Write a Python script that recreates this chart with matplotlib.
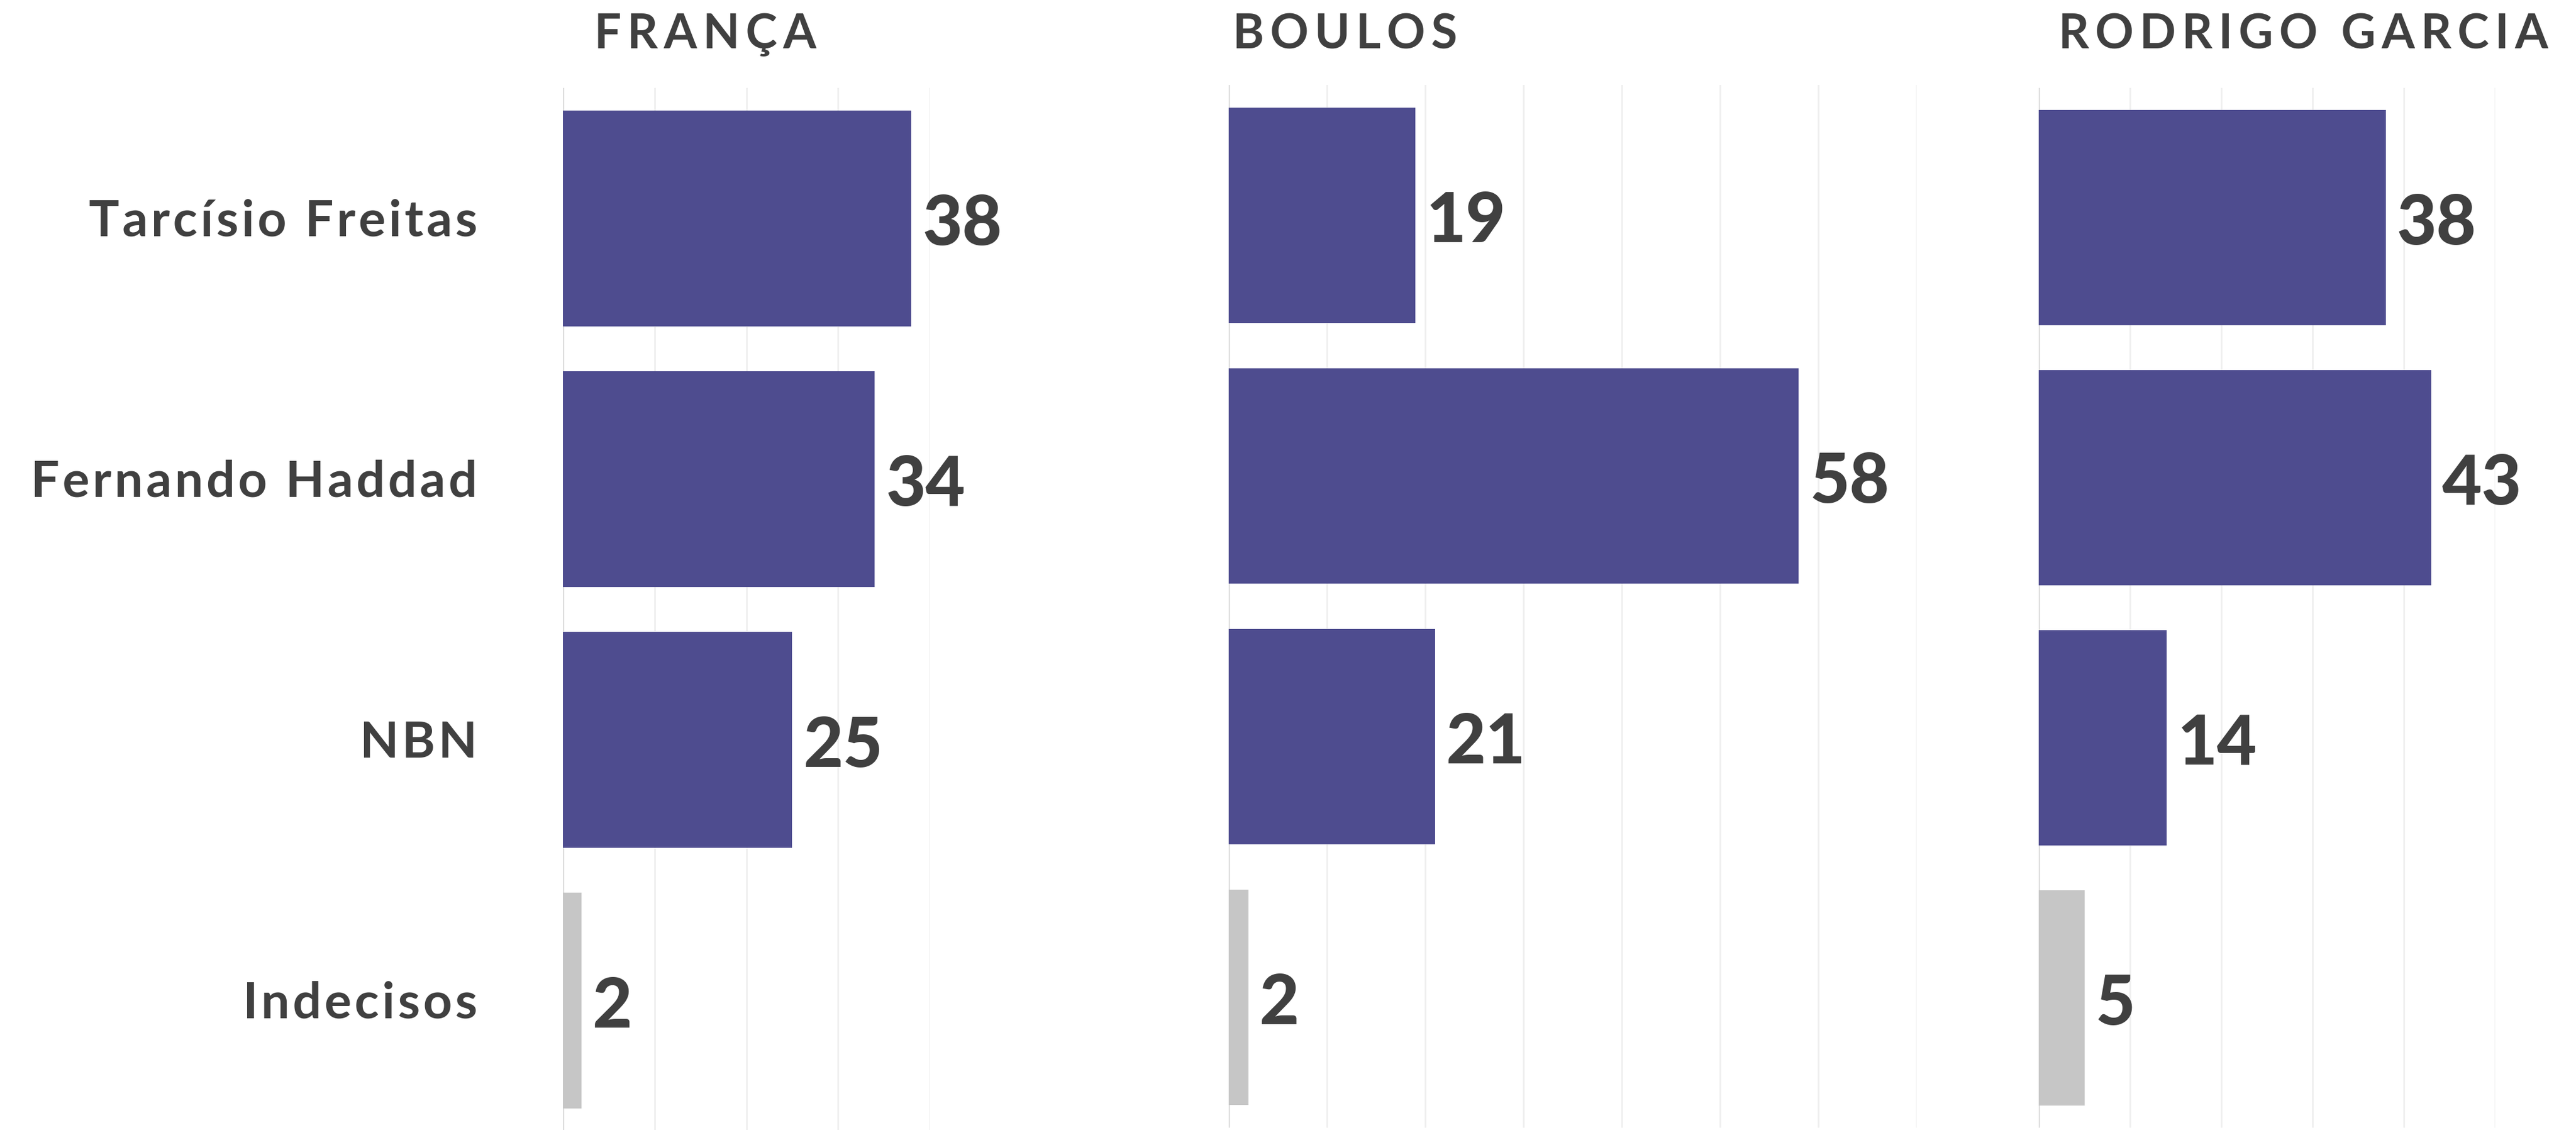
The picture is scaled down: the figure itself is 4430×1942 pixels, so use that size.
import matplotlib
matplotlib.use("Agg")
import matplotlib.pyplot as plt
from matplotlib.transforms import offset_copy

# ---- data ----
candidates = ["Tarcísio Freitas", "Fernando Haddad", "NBN", "Indecisos"]
panel_titles = ["FRANÇA", "BOULOS", "RODRIGO GARCIA"]
franca = [38, 34, 25, 2]
boulos = [19, 58, 21, 2]
rodrigo = [38, 43, 14, 5]
values = [franca, boulos, rodrigo]
grid_max = [40, 70, 50]

W, H = 4430, 1942
DPI = 100
fig = plt.figure(figsize=(W / DPI, H / DPI), dpi=DPI)
fig.patch.set_facecolor("white")

FAM = ["Lato", "DejaVu Sans"]
TXT = "#404040"
PURPLE = "#4e4c8f"
GRAY = "#c6c6c6"

# axes placement in pixels: (left, top, right, bottom)
boxes = [(968, 151, 1599, 1944), (2113, 146, 3296, 1938), (3506, 151, 4291, 1938)]
title_x = [1022, 2120, 3540]

def track(s, n=1):
    return ("\u200a" * n).join(s)

for k, (l, t, r, b) in enumerate(boxes):
    ax = fig.add_axes([l / W, 1 - b / H, (r - l) / W, (b - t) / H])
    ax.set_xlim(0, grid_max[k])
    ax.set_ylim(3.5, -0.5)
    for s in ax.spines.values():
        s.set_visible(False)
    ax.set_xticks(range(0, grid_max[k] + 1, 10))
    ax.set_yticks([])
    ax.tick_params(axis="x", length=0, labelbottom=False)
    ax.grid(axis="x", color="#efefef", linewidth=2)
    ax.set_axisbelow(True)
    ax.axvline(0, color="#dcdcdc", linewidth=2.5, zorder=1)
    vals = values[k]
    cols = [PURPLE, PURPLE, PURPLE, GRAY]
    ax.barh(range(len(vals)), vals, height=0.828, color=cols, zorder=2)
    vtr = offset_copy(ax.transData, fig=fig, x=19, y=-46, units="dots")
    for i, v in enumerate(vals):
        ax.text(v, i, str(v), transform=vtr, ha="left", va="baseline",
                fontsize=85, fontweight="black", color=TXT, family=FAM,
                clip_on=False)
    if k == 0:
        ltr = offset_copy(ax.transData, fig=fig, x=-147, y=-30, units="dots")
        for i, c in enumerate(candidates):
            ax.text(0, i, track(c), transform=ltr, ha="right", va="baseline",
                    fontsize=62.5, fontweight="bold", color=TXT, family=FAM,
                    clip_on=False)
    fig.text(title_x[k] / W, 1 - 83 / H, track(panel_titles[k], 2),
             ha="left", va="baseline", fontsize=59, fontweight="bold",
             color=TXT, family=FAM)

fig.savefig("out.png", dpi=DPI, facecolor="white")
